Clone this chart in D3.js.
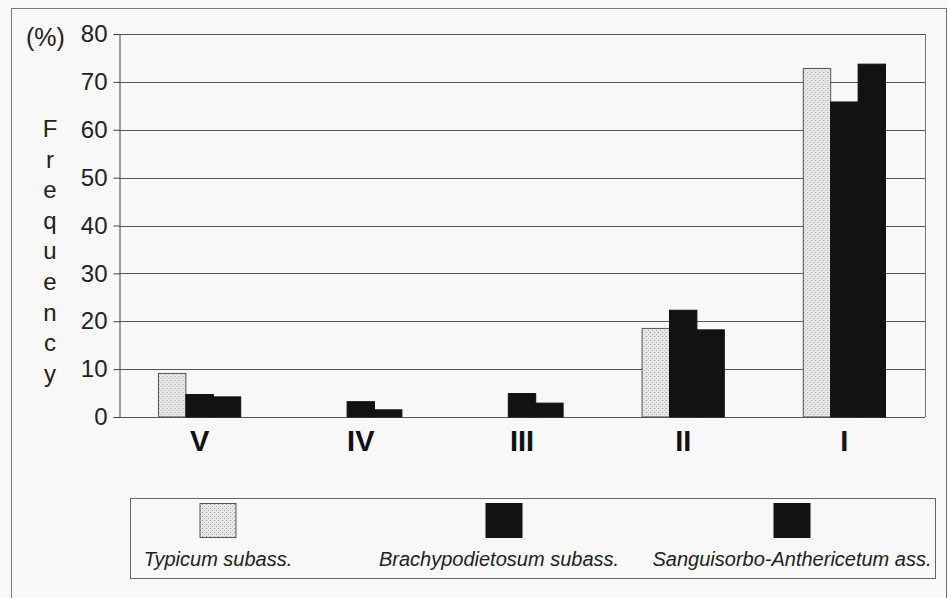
<!DOCTYPE html>
<html>
<head>
<meta charset="utf-8">
<script src="https://cdn.jsdelivr.net/npm/d3@7"></script>
<style>
  body { margin: 0; background: #f8f8f8; }
  svg { display: block; font-family: "Liberation Sans", Arial, sans-serif; }
</style>
</head>
<body>
<div id="chart"></div>
<script>
// data
const classes = ["V", "IV", "III", "II", "I"];
const seriesNames = ["Typicum subass.", "Brachypodietosum subass.", "Sanguisorbo-Anthericetum ass."];
const typicum = [9.1, 0, 0, 18.5, 72.8];
const brachypodietosum = [4.7, 3.2, 4.9, 22.3, 65.8];
const sanguisorbo = [4.2, 1.5, 2.9, 18.2, 73.7];
const yTicks = [0, 10, 20, 30, 40, 50, 60, 70, 80];
const yTitle = "Frequency";

const width = 948, height = 598;
const plot = {left: 119, right: 925, top: 34, bottom: 417};

const svg = d3.select("#chart").append("svg")
    .attr("width", width)
    .attr("height", height);

// stipple for the light bars
const defs = svg.append("defs");
const pat = defs.append("pattern")
    .attr("id", "stipple")
    .attr("width", 4).attr("height", 4)
    .attr("patternUnits", "userSpaceOnUse");
pat.append("rect").attr("width", 4).attr("height", 4).attr("fill", "#e6e6e6");
pat.append("rect").attr("x", 0).attr("y", 0).attr("width", 1).attr("height", 1).attr("fill", "#999");
pat.append("rect").attr("x", 2).attr("y", 2).attr("width", 1).attr("height", 1).attr("fill", "#b5b5b5");

const fills = ["url(#stipple)", "#121212", "#121212"];
const strokes = ["#555", "#111", "#111"];

// outer frame
svg.append("rect")
    .attr("x", 11.5).attr("y", 8.5)
    .attr("width", 935).attr("height", 600)
    .attr("fill", "none")
    .attr("stroke", "#777");

const x0 = d3.scaleBand()
    .domain(classes)
    .range([plot.left, plot.right])
    .paddingInner(0.49)
    .paddingOuter(0.245);

const x1 = d3.scaleBand()
    .domain(d3.range(seriesNames.length))
    .range([0, x0.bandwidth()]);

const y = d3.scaleLinear()
    .domain([0, 80])
    .range([plot.bottom, plot.top]);

// grid
svg.append("g")
    .selectAll("line")
    .data(yTicks)
    .join("line")
    .attr("x1", plot.left).attr("x2", plot.right)
    .attr("y1", d => Math.round(y(d)) + 0.5)
    .attr("y2", d => Math.round(y(d)) + 0.5)
    .attr("stroke", "#555")
    .attr("stroke-width", 1);

// right border of plot
svg.append("line")
    .attr("x1", plot.right + 0.5).attr("x2", plot.right + 0.5)
    .attr("y1", plot.top).attr("y2", plot.bottom)
    .attr("stroke", "#777");

// y axis
const yAxis = svg.append("g")
    .attr("transform", `translate(${plot.left + 0.5},0)`)
    .call(d3.axisLeft(y).tickValues(yTicks).tickSize(6).tickPadding(6));
yAxis.select(".domain").attr("stroke", "#444");
yAxis.selectAll(".tick line").attr("stroke", "#444");
yAxis.selectAll(".tick text")
    .attr("font-size", 24)
    .attr("fill", "#222");

svg.append("text")
    .attr("x", 26).attr("y", 46)
    .attr("font-size", 25)
    .attr("fill", "#222")
    .text("(%)");

// vertical stacked title
svg.append("g")
    .selectAll("text")
    .data(yTitle.split(""))
    .join("text")
    .attr("x", 50)
    .attr("y", (d, i) => 137 + i * 30.6)
    .attr("text-anchor", "middle")
    .attr("font-size", 24)
    .attr("fill", "#222")
    .text(d => d);

// bars
const series = [typicum, brachypodietosum, sanguisorbo];
const groups = svg.append("g")
    .selectAll("g")
    .data(classes)
    .join("g")
    .attr("transform", d => `translate(${x0(d)},0)`);

groups.selectAll("rect")
    .data((d, ci) => series.map((s, si) => ({si: si, v: s[ci]})).filter(o => o.v > 0))
    .join("rect")
    .attr("x", d => x1(d.si))
    .attr("y", d => y(d.v))
    .attr("width", x1.bandwidth())
    .attr("height", d => y(0) - y(d.v))
    .attr("fill", d => fills[d.si])
    .attr("stroke", d => strokes[d.si])
    .attr("stroke-width", 1);

// category labels
svg.append("g")
    .selectAll("text")
    .data(classes)
    .join("text")
    .attr("x", d => x0(d) + x0.bandwidth() / 2)
    .attr("y", 451)
    .attr("text-anchor", "middle")
    .attr("font-size", 29)
    .attr("font-weight", "bold")
    .attr("fill", "#111")
    .text(d => d);

// legend
svg.append("rect")
    .attr("x", 130.5).attr("y", 498.5)
    .attr("width", 805).attr("height", 80)
    .attr("fill", "none")
    .attr("stroke", "#666");

const legendX = [218, 504, 792];
const leg = svg.append("g")
    .selectAll("g")
    .data(seriesNames)
    .join("g")
    .attr("transform", (d, i) => `translate(${legendX[i]},0)`);

leg.append("rect")
    .attr("x", -18).attr("y", 503.5)
    .attr("width", 36).attr("height", 34)
    .attr("fill", (d, i) => fills[i])
    .attr("stroke", (d, i) => strokes[i]);

leg.append("text")
    .attr("x", (d, i) => i === 1 ? -5 : 0)
    .attr("y", 566)
    .attr("text-anchor", "middle")
    .attr("font-size", 20)
    .attr("font-style", "italic")
    .attr("fill", "#222")
    .text(d => d);
</script>
</body>
</html>
